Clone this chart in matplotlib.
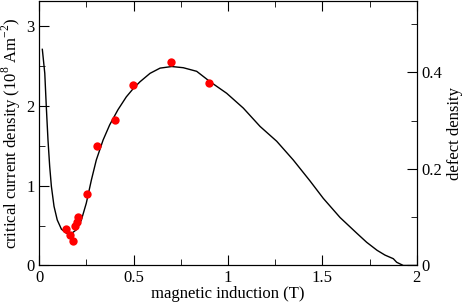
import numpy as np
import matplotlib
matplotlib.use("Agg")
import matplotlib.pyplot as plt
from matplotlib.ticker import MultipleLocator, FormatStrFormatter

plt.rcParams["font.family"] = ["Liberation Serif", "DejaVu Serif"]
plt.rcParams["mathtext.fontset"] = "custom"
plt.rcParams["mathtext.rm"] = "Liberation Serif"

# ── data ──
b_meas  = [0.141, 0.163, 0.180, 0.189, 0.198, 0.207, 0.251, 0.304, 0.40, 0.499, 0.70, 0.901]
jc_meas = [0.455, 0.38, 0.31, 0.49, 0.55, 0.61, 0.89, 1.50, 1.815, 2.265, 2.55, 2.29]

b_fit  = [0.016, 0.029, 0.037, 0.046, 0.055, 0.064, 0.078, 0.095, 0.117, 0.143,
          0.170, 0.196, 0.223, 0.249, 0.276, 0.302, 0.338, 0.373, 0.417, 0.461,
          0.50, 0.534, 0.587, 0.640, 0.702, 0.763, 0.834, 0.905, 0.993, 1.081,
          1.170, 1.258, 1.346, 1.434, 1.505, 1.594, 1.682, 1.735, 1.790, 1.832,
          1.876, 1.894, 1.929, 2.0]
jc_fit = [2.705, 2.405, 1.99, 1.57, 1.24, 0.99, 0.74, 0.57, 0.455, 0.405,
          0.40, 0.446, 0.57, 0.78, 1.07, 1.32, 1.57, 1.76, 1.95, 2.11,
          2.22, 2.30, 2.405, 2.47, 2.49, 2.475, 2.43, 2.30, 2.155, 1.97,
          1.74, 1.555, 1.32, 1.06, 0.84, 0.60, 0.405, 0.29, 0.19, 0.13,
          0.085, 0.04, 0.0, 0.0]

# ── figure ──
fig = plt.figure(figsize=(4.63, 3.03), dpi=100)
ax = fig.add_axes([0.0849, 0.1238, 0.8151, 0.8729])

ax.plot(b_fit, jc_fit, color="black", lw=1.0)
ax.plot(b_meas, jc_meas, "o", color="#ff0000", ms=6, mec="none")

ax.set_xlim(0, 2)
ax.set_ylim(0, 3.31)
ax.xaxis.set_major_locator(MultipleLocator(0.5))
ax.xaxis.set_minor_locator(MultipleLocator(0.25))
ax.yaxis.set_major_locator(MultipleLocator(1))
ax.yaxis.set_minor_locator(MultipleLocator(0.5))
ax.xaxis.set_major_formatter(FormatStrFormatter("%g"))
ax.tick_params(which="both", direction="in", top=True, labelsize=12)
ax.tick_params(which="major", length=7)
ax.tick_params(which="minor", length=4)
ax.set_xlabel("magnetic induction (T)", fontsize=12, labelpad=0)
ax.set_ylabel(r"critical current density (10$^{8}$ Am$^{-2}$)", fontsize=12, labelpad=2)

ax2 = ax.twinx()
ax2.set_ylim(0, 0.548)
ax2.yaxis.set_major_locator(MultipleLocator(0.2))
ax2.yaxis.set_minor_locator(MultipleLocator(0.1))
ax2.yaxis.set_major_formatter(FormatStrFormatter("%g"))
ax2.tick_params(which="both", direction="in", labelsize=12)
ax2.tick_params(which="major", length=7)
ax2.tick_params(which="minor", length=4)
ax2.set_ylabel("defect density", fontsize=12, labelpad=3)

fig.savefig("out.png", dpi=100)
